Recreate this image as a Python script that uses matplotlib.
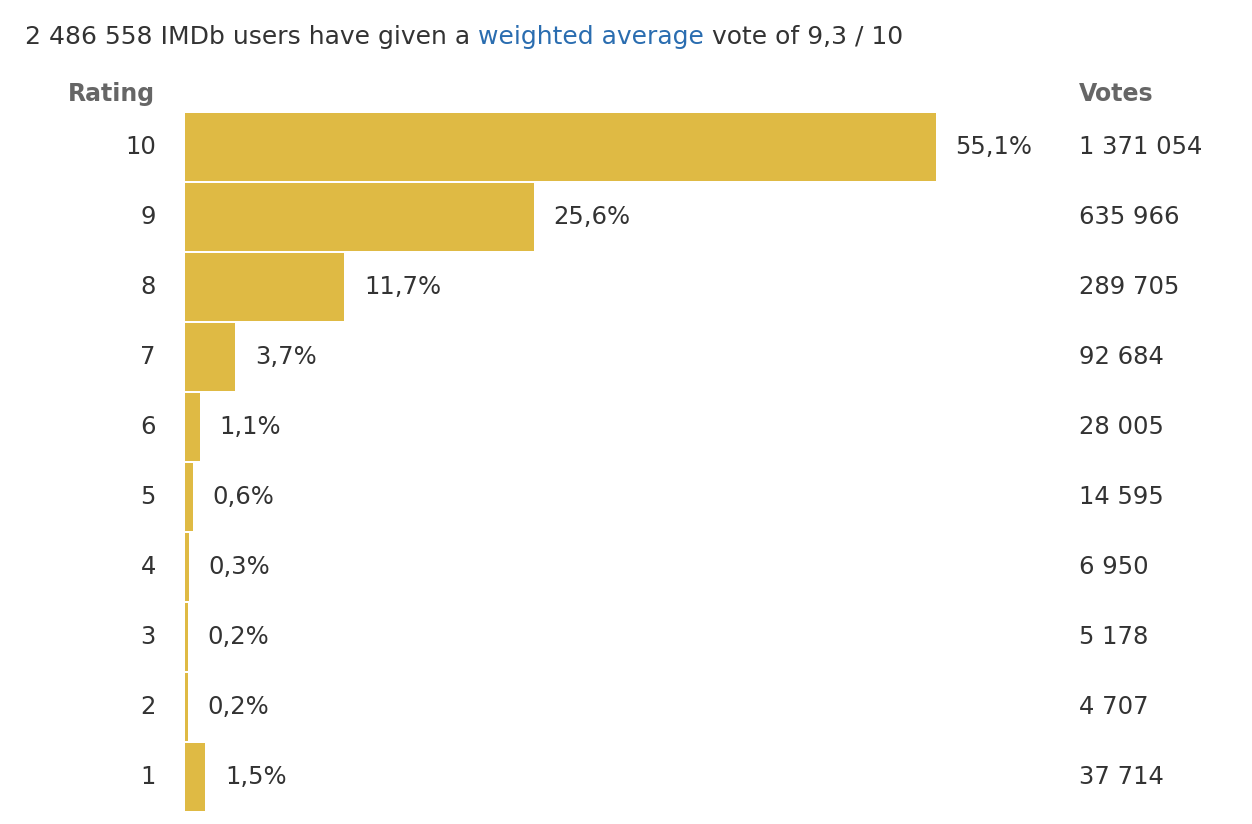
import matplotlib
matplotlib.use("Agg")
import matplotlib.pyplot as plt

# ---- Data ------------------------------------------------------------------

ratings = ["10", "9", "8", "7", "6", "5", "4", "3", "2", "1"]
percents = [55.1, 25.6, 11.7, 3.7, 1.1, 0.6, 0.3, 0.2, 0.2, 1.5]
pct_labels = ["55,1%", "25,6%", "11,7%", "3,7%", "1,1%", "0,6%", "0,3%", "0,2%", "0,2%", "1,5%"]
votes = ["1 371 054", "635 966", "289 705", "92 684", "28 005",
         "14 595", "6 950", "5 178", "4 707", "37 714"]

title_parts = [("2 486 558 IMDb users have given a ", "#333333"),
               ("weighted average", "#2a6db0"),
               (" vote of 9,3 / 10", "#333333")]

BAR = "#dfba44"
TEXT = "#333333"
HEAD = "#666666"

plt.rcParams["font.family"] = "DejaVu Sans"

W, H = 1252, 824
fig = plt.figure(figsize=(W / 100, H / 100), dpi=100)

# axes: bar area, x 185..936 px for 0..55.1, rows 112..812 px
ax = fig.add_axes([185 / W, 12 / H, (936 - 185) / W, 700 / H])
y = list(range(len(ratings)))
ax.barh(y, percents, height=0.97, color=BAR, linewidth=0)
ax.set_xlim(0, max(percents))
ax.set_ylim(len(ratings) - 0.5, -0.5)
ax.axis("off")

fs = 17.5
for i in y:
    ax.annotate(pct_labels[i], (percents[i], i), xytext=(14, 0),
                textcoords="offset points", ha="left", va="center",
                fontsize=fs, color=TEXT, annotation_clip=False)
    ax.annotate(ratings[i], (0, i), xytext=(-(185 - 156) * 0.72, 0),
                textcoords="offset points", ha="right", va="center",
                fontsize=fs, color=TEXT, annotation_clip=False)
    ax.annotate(votes[i], (0, i), xytext=((1079 - 185) * 0.72, 0),
                textcoords="offset points", ha="left", va="center",
                fontsize=fs, color=TEXT, annotation_clip=False)

# column headers
fig.text(68 / W, 1 - 94 / H, "Rating", fontsize=17, fontweight="bold",
         color=HEAD, ha="left", va="center")
fig.text(1079 / W, 1 - 94 / H, "Votes", fontsize=17, fontweight="bold",
         color=HEAD, ha="left", va="center")

# title made of coloured pieces
fig.canvas.draw()
renderer = fig.canvas.get_renderer()
x = 25
for s, c in title_parts:
    t = fig.text(x / W, 1 - 37 / H, s, fontsize=18, color=c,
                 ha="left", va="center")
    bb = t.get_window_extent(renderer=renderer)
    x += bb.width

fig.savefig("out.png", dpi=100)
